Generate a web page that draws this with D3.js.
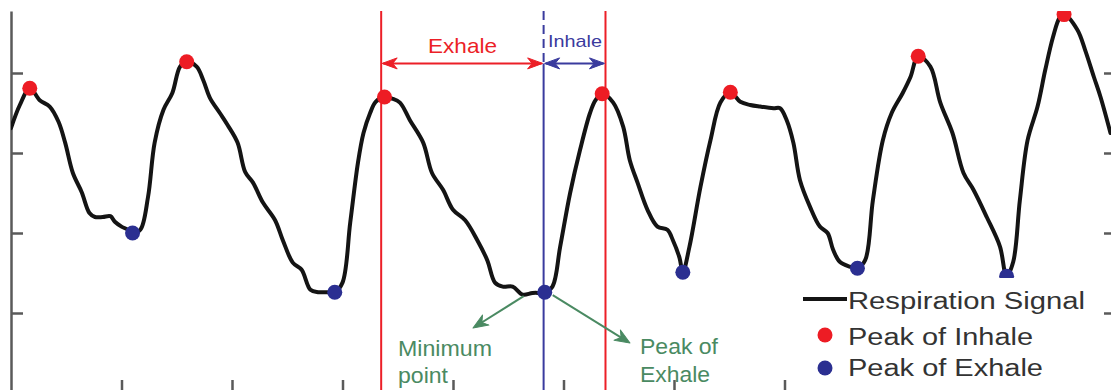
<!DOCTYPE html>
<html>
<head>
<meta charset="utf-8">
<script src="https://cdn.jsdelivr.net/npm/d3@7"></script>
<style>
  html, body { margin: 0; padding: 0; background: #fff; }
  svg { display: block; font-family: "Liberation Sans", Arial, Helvetica, sans-serif; }
</style>
</head>
<body>
<svg id="chart" width="1111" height="390"></svg>
<script>
// Respiration signal samples (time in seconds, amplitude in arbitrary units)
const timeSec = [
  0.00, 0.08, 0.17, 0.26, 0.35, 0.43, 0.49, 0.56, 0.64, 0.71, 0.76, 0.83, 0.90, 0.94, 1.00, 1.06, 1.10,
  1.17, 1.24, 1.30, 1.38, 1.46, 1.53, 1.59, 1.68, 1.74, 1.80, 1.89, 1.96, 2.05, 2.12, 2.19, 2.28, 2.39,
  2.46, 2.55, 2.63, 2.71, 2.78, 2.86, 2.93, 3.00, 3.07, 3.14, 3.19, 3.25, 3.30, 3.38, 3.45, 3.52, 3.61,
  3.73, 3.81, 3.91, 4.00, 4.11, 4.22, 4.31, 4.38, 4.45, 4.54, 4.63, 4.72, 4.83, 4.90, 4.97, 5.06, 5.15,
  5.24, 5.29, 5.35, 5.45, 5.54, 5.60, 5.67, 5.76, 5.85, 5.94, 5.99, 6.05, 6.08, 6.14, 6.24, 6.33, 6.42,
  6.51, 6.60, 6.69, 6.78, 6.90, 6.96, 7.02, 7.08, 7.14, 7.23, 7.32, 7.39, 7.44, 7.50, 7.59, 7.66, 7.73,
  7.80, 7.89, 7.97, 8.07, 8.14, 8.21, 8.32, 8.41, 8.52, 8.62, 8.71, 8.83, 8.95, 9.01, 9.07, 9.13, 9.20,
  9.29, 9.36, 9.43, 9.49, 9.53, 9.65, 9.72, 9.80, 9.86, 9.95
];
const amplitude = [
  3.31, 3.60, 3.81, 3.66, 3.58, 3.39, 3.13, 2.75, 2.51, 2.25, 2.20, 2.20, 2.21, 2.14, 2.08, 2.04, 2.00,
  2.04, 2.45, 3.13, 3.54, 3.75, 4.08, 4.14, 4.08, 3.91, 3.69, 3.50, 3.35, 3.13, 2.76, 2.63, 2.38, 2.16,
  1.91, 1.63, 1.54, 1.29, 1.26, 1.26, 1.26, 1.38, 2.13, 2.88, 3.25, 3.50, 3.64, 3.70, 3.68, 3.63, 3.41,
  3.13, 2.75, 2.54, 2.29, 2.16, 1.91, 1.66, 1.38, 1.33, 1.33, 1.23, 1.25, 1.26, 1.33, 1.83, 2.50, 3.04,
  3.50, 3.66, 3.74, 3.63, 3.33, 2.91, 2.63, 2.29, 2.08, 2.04, 1.91, 1.69, 1.51, 1.83, 2.58, 3.16, 3.63,
  3.76, 3.64, 3.60, 3.58, 3.56, 3.56, 3.41, 3.13, 2.66, 2.33, 2.08, 2.00, 1.79, 1.64, 1.58, 1.56, 1.66,
  2.41, 3.16, 3.50, 3.75, 3.95, 4.21, 4.08, 3.63, 3.25, 2.75, 2.54, 2.20, 1.83, 1.46, 1.64, 2.41, 3.16,
  3.58, 4.04, 4.45, 4.69, 4.73, 4.54, 4.29, 3.95, 3.70, 3.25
];

// Detected extrema (times of samples on the signal)
const inhalePeakTimes = [0.17, 1.59, 3.38, 5.35, 6.51, 8.21, 9.53];
const exhalePeakTimes = [1.10, 2.93, 4.83, 6.08, 7.66, 9.01];

// One breathing cycle highlighted: exhale start, minimum, inhale end
const cycleStart = 3.35;
const cycleMinimum = 4.82;
const cycleEnd = 5.38;
const phaseArrowLevel = 4.12;

// Axis ticks (unlabelled)
const xTicks = [1, 2, 3, 4, 5, 6, 7, 8, 9];
const yTicks = [1, 2, 3, 4];

// Legend entries
const legendLabels = ["Respiration Signal", "Peak of Inhale", "Peak of Exhale"];

const COLORS = {
  signal: "#141414",
  inhale: "#ed1c24",
  exhale: "#2b2f91",
  redLine: "#ec1f27",
  blueLine: "#3a3b9e",
  green: "#4a8a62",
  axis: "#5a5a5a",
  text: "#333333"
};

const svg = d3.select("#chart");
const plot = { left: 11, right: 1116, top: 11, bottom: 393 };

const x = d3.scaleLinear().domain([0, 10]).range([plot.left, plot.right]);
const y = d3.scaleLinear().domain([0, 4.775]).range([plot.bottom, plot.top]);

const signal = timeSec.map((t, i) => ({ t, v: amplitude[i] }));
const lookup = t => signal.find(d => Math.abs(d.t - t) < 1e-6);

svg.append("defs").append("clipPath").attr("id", "plot-clip")
  .append("rect")
  .attr("x", plot.left).attr("y", plot.top)
  .attr("width", plot.right - plot.left).attr("height", plot.bottom - plot.top);

// Axes: box-style ticks pointing inward, no tick labels
const axisG = svg.append("g").attr("class", "axes");
const styleAxis = g => {
  g.selectAll("path").attr("stroke", COLORS.axis).attr("stroke-width", 2.5);
  g.selectAll("line").attr("stroke", COLORS.axis).attr("stroke-width", 2.5);
  g.selectAll("text").remove();
};
axisG.append("g").attr("transform", `translate(${plot.left},0)`)
  .call(d3.axisRight(y).tickValues(yTicks).tickSize(12).tickSizeOuter(0).tickFormat(""))
  .call(styleAxis);
axisG.append("g").attr("transform", `translate(${plot.right},0)`)
  .call(d3.axisLeft(y).tickValues(yTicks).tickSize(12).tickSizeOuter(0).tickFormat(""))
  .call(styleAxis);
axisG.append("g").attr("transform", `translate(0,${plot.bottom})`)
  .call(d3.axisTop(x).tickValues(xTicks).tickSize(13).tickSizeOuter(0).tickFormat(""))
  .call(styleAxis);

const body = svg.append("g").attr("clip-path", "url(#plot-clip)");

// Cycle boundaries
[cycleStart, cycleEnd].forEach(t => {
  body.append("line")
    .attr("x1", x(t)).attr("x2", x(t))
    .attr("y1", plot.top).attr("y2", plot.bottom)
    .attr("stroke", COLORS.redLine).attr("stroke-width", 2);
});
body.append("line")
  .attr("x1", x(cycleMinimum)).attr("x2", x(cycleMinimum))
  .attr("y1", plot.top).attr("y2", y(phaseArrowLevel))
  .attr("stroke", COLORS.blueLine).attr("stroke-width", 2)
  .attr("stroke-dasharray", "9,5");
body.append("line")
  .attr("x1", x(cycleMinimum)).attr("x2", x(cycleMinimum))
  .attr("y1", y(phaseArrowLevel)).attr("y2", plot.bottom)
  .attr("stroke", COLORS.blueLine).attr("stroke-width", 2);

// Arrowhead shape: tip at (0,0), pointing along +x
function arrowHead(g, tipX, tipY, angle, color, len, half) {
  const notch = len * 0.7;
  g.append("path")
    .attr("d", `M0,0 L${-len},${-half} L${-notch},0 L${-len},${half} Z`)
    .attr("transform", `translate(${tipX},${tipY}) rotate(${angle})`)
    .attr("fill", color).attr("stroke", color).attr("stroke-width", 1)
    .attr("stroke-linejoin", "round");
}

// Exhale / inhale duration arrows
const ay = y(phaseArrowLevel);
const phaseG = svg.append("g");
phaseG.append("line")
  .attr("x1", x(cycleStart) + 2).attr("x2", x(cycleMinimum) - 2)
  .attr("y1", ay).attr("y2", ay)
  .attr("stroke", COLORS.redLine).attr("stroke-width", 2);
arrowHead(phaseG, x(cycleStart) + 1, ay, 180, COLORS.redLine, 15, 5.5);
arrowHead(phaseG, x(cycleMinimum) - 1, ay, 0, COLORS.redLine, 15, 5.5);
phaseG.append("line")
  .attr("x1", x(cycleMinimum) + 2).attr("x2", x(cycleEnd) - 2)
  .attr("y1", ay).attr("y2", ay)
  .attr("stroke", COLORS.blueLine).attr("stroke-width", 2);
arrowHead(phaseG, x(cycleMinimum) + 1, ay, 180, COLORS.blueLine, 15, 5.5);
arrowHead(phaseG, x(cycleEnd) - 1, ay, 0, COLORS.blueLine, 15, 5.5);

phaseG.append("text").text("Exhale")
  .attr("x", 428).attr("y", 53)
  .attr("font-size", 21).attr("fill", COLORS.redLine)
  .attr("textLength", 69).attr("lengthAdjust", "spacingAndGlyphs");
phaseG.append("text").text("Inhale")
  .attr("x", 548).attr("y", 47)
  .attr("font-size", 17).attr("fill", COLORS.blueLine)
  .attr("textLength", 54).attr("lengthAdjust", "spacingAndGlyphs");

// Respiration signal
body.append("path")
  .datum(signal)
  .attr("d", d3.line().x(d => x(d.t)).y(d => y(d.v)).curve(d3.curveCatmullRom.alpha(0.5)))
  .attr("fill", "none")
  .attr("stroke", COLORS.signal)
  .attr("stroke-width", 4)
  .attr("stroke-linejoin", "round")
  .attr("stroke-linecap", "round");

// Extrema markers
body.selectAll("circle.inhale")
  .data(inhalePeakTimes.map(lookup))
  .join("circle").attr("class", "inhale")
  .attr("cx", d => x(d.t)).attr("cy", d => y(d.v)).attr("r", 7.5)
  .attr("fill", COLORS.inhale);
body.selectAll("circle.exhale")
  .data(exhalePeakTimes.map(lookup))
  .join("circle").attr("class", "exhale")
  .attr("cx", d => x(d.t)).attr("cy", d => y(d.v)).attr("r", 7.5)
  .attr("fill", COLORS.exhale);

// Callouts around the cycle minimum
const minPt = lookup(4.83);
const callout = svg.append("g");
const calloutArrows = [
  { from: [x(minPt.t) - 21, y(minPt.v) + 4], to: [473, 328] },
  { from: [x(minPt.t) + 8, y(minPt.v) + 3], to: [630, 343] }
];
calloutArrows.forEach(a => {
  const ang = Math.atan2(a.to[1] - a.from[1], a.to[0] - a.from[0]) * 180 / Math.PI;
  const len = Math.hypot(a.to[0] - a.from[0], a.to[1] - a.from[1]);
  const ux = (a.to[0] - a.from[0]) / len, uy = (a.to[1] - a.from[1]) / len;
  callout.append("line")
    .attr("x1", a.from[0]).attr("y1", a.from[1])
    .attr("x2", a.to[0] - ux * 8).attr("y2", a.to[1] - uy * 8)
    .attr("stroke", COLORS.green).attr("stroke-width", 2);
  arrowHead(callout, a.to[0], a.to[1], ang, COLORS.green, 15, 6);
});
const calloutText = [
  { s: "Minimum", x: 398, y: 356, w: 94 },
  { s: "point", x: 398, y: 383, w: 50 },
  { s: "Peak of", x: 640, y: 354, w: 78 },
  { s: "Exhale", x: 640, y: 382, w: 70 }
];
callout.selectAll("text").data(calloutText).join("text")
  .text(d => d.s)
  .attr("x", d => d.x).attr("y", d => d.y)
  .attr("font-size", 22).attr("fill", COLORS.green)
  .attr("textLength", d => d.w).attr("lengthAdjust", "spacingAndGlyphs");

// Legend
const legend = svg.append("g");
legend.append("rect")
  .attr("x", 795).attr("y", 278).attr("width", 303).attr("height", 120)
  .attr("fill", "#fff");
legend.append("line")
  .attr("x1", 803).attr("x2", 847).attr("y1", 299).attr("y2", 299)
  .attr("stroke", COLORS.signal).attr("stroke-width", 4);
legend.append("circle").attr("cx", 825).attr("cy", 335).attr("r", 7.5).attr("fill", COLORS.inhale);
legend.append("circle").attr("cx", 825).attr("cy", 368).attr("r", 7.5).attr("fill", COLORS.exhale);
const legendPos = [
  { y: 309, w: 237 },
  { y: 345, w: 185 },
  { y: 376, w: 195 }
];
legend.selectAll("text").data(legendLabels).join("text")
  .text(d => d)
  .attr("x", 848).attr("y", (d, i) => legendPos[i].y)
  .attr("font-size", 23).attr("fill", COLORS.text)
  .attr("textLength", (d, i) => legendPos[i].w).attr("lengthAdjust", "spacingAndGlyphs");
</script>
</body>
</html>
